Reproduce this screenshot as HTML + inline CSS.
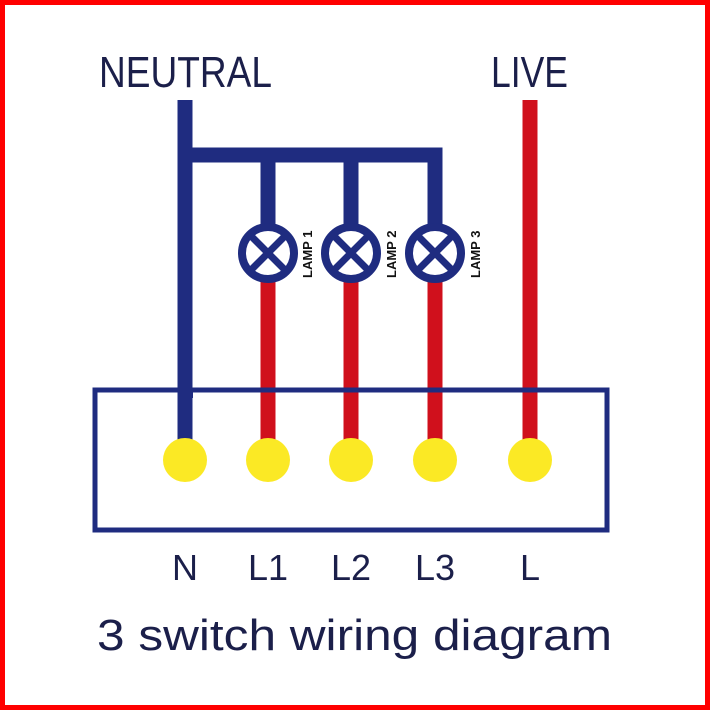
<!DOCTYPE html>
<html><head><style>html,body{margin:0;padding:0;background:#fff}</style></head>
<body>
<svg width="710" height="710" viewBox="0 0 710 710" xmlns="http://www.w3.org/2000/svg" font-family="Liberation Sans, sans-serif">
<rect x="2.5" y="2.5" width="705" height="705" fill="#fff" stroke="#f00" stroke-width="5"/>
<g fill="#1b1f4a">
<text x="99" y="87" font-size="44" textLength="173" lengthAdjust="spacingAndGlyphs">NEUTRAL</text>
<text x="491" y="87" font-size="44" textLength="77" lengthAdjust="spacingAndGlyphs">LIVE</text>
</g>
<g stroke="#1f2c80" stroke-width="15" fill="none">
<line x1="185" y1="100" x2="185" y2="440"/>
<polyline points="185,155 435,155 435,230"/>
<line x1="268" y1="155" x2="268" y2="230"/>
<line x1="351" y1="155" x2="351" y2="230"/>
</g>
<g stroke="#d0101c" stroke-width="15">
<line x1="268" y1="280" x2="268" y2="440"/>
<line x1="351" y1="280" x2="351" y2="440"/>
<line x1="435" y1="280" x2="435" y2="440"/>
<line x1="530" y1="100" x2="530" y2="440"/>
</g>
<g stroke="#1f2c80" stroke-width="8" fill="#fff">
<circle cx="268" cy="253" r="26"/>
<circle cx="351" cy="253" r="26"/>
<circle cx="435" cy="253" r="26"/>
</g>
<g stroke="#1f2c80" stroke-width="7">
<path d="M251 236 L285 270 M285 236 L251 270"/>
<path d="M334 236 L368 270 M368 236 L334 270"/>
<path d="M418 236 L452 270 M452 236 L418 270"/>
</g>
<g fill="#111" font-size="13" font-weight="bold">
<text transform="translate(312,278) rotate(-90)">LAMP 1</text>
<text transform="translate(396,278) rotate(-90)">LAMP 2</text>
<text transform="translate(480,278) rotate(-90)">LAMP 3</text>
</g>
<rect x="95" y="390" width="512" height="140" fill="none" stroke="#1f2c80" stroke-width="5"/>
<rect x="178" y="388" width="15" height="10" fill="#1f2c80"/>
<g fill="#fbe925">
<circle cx="185" cy="460" r="22"/>
<circle cx="268" cy="460" r="22"/>
<circle cx="351" cy="460" r="22"/>
<circle cx="435" cy="460" r="22"/>
<circle cx="530" cy="460" r="22"/>
</g>
<g fill="#1b1f4a" font-size="36" text-anchor="middle">
<text x="185" y="580">N</text>
<text x="268" y="580">L1</text>
<text x="351" y="580">L2</text>
<text x="435" y="580">L3</text>
<text x="530" y="580">L</text>
</g>
<text x="97" y="650" font-size="44" fill="#1b1f4a" textLength="515" lengthAdjust="spacingAndGlyphs">3 switch wiring diagram</text>
</svg>
</body></html>
